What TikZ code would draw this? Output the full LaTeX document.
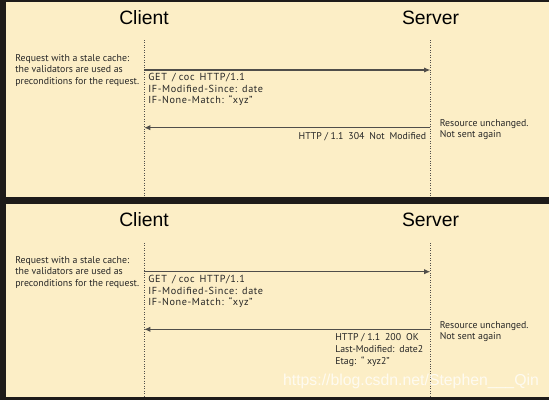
\documentclass[tikz,border=0pt]{standalone}
\usepackage{fontspec}
\setmainfont{PT Sans}
\newfontfamily\titlefont{Liberation Sans}
\newfontfamily\hdrfont[LetterSpace=6]{PT Sans}
\usetikzlibrary{arrows.meta,positioning}

\begin{document}
\begin{tikzpicture}[x=0.02cm, y=-0.02cm,
  lifeline/.style={densely dotted, line width=0.4pt, draw=linegray},
  msg/.style={line width=0.7pt, draw=linegray, -{Latex[length=3.6pt,width=3pt]}},
  title/.style={font=\titlefont\fontsize{11}{13}\selectfont, text=black, inner sep=0pt},
  note/.style={font=\fontsize{5.6}{6.5}\selectfont, align=left, inner sep=0pt, text=black!85},
  header/.style={font=\hdrfont\fontsize{5.8}{6.55}\selectfont, align=left, inner sep=0pt, text=black!85}]

\definecolor{linegray}{RGB}{80,78,74}
\definecolor{cream}{RGB}{252,238,198}
\definecolor{frame}{RGB}{30,27,25}

\fill[frame] (0,0) rectangle (549,400);
\useasboundingbox (0,0) rectangle (549,400);
\fill[cream] (6,2) rectangle (549,197);
\fill[cream] (6,204) rectangle (549,397);

% upper panel: 304 Not Modified
\node[title] (clientA) at (144,18) {Client};
\node[title] (serverA) at (430.5,18) {Server};
\coordinate (clientAtop) at (144,40);
\coordinate (clientAbot) at (144,197);
\coordinate (serverAtop) at (430.5,40);
\coordinate (serverAbot) at (430.5,197);
\draw[lifeline] (clientAtop) -- (clientAbot);
\draw[lifeline] (serverAtop) -- (serverAbot);

\coordinate (reqAfrom) at (144,70);
\coordinate (reqAto) at (430.5,70);
\coordinate (resAfrom) at (430.5,127.7);
\coordinate (resAto) at (144,127.7);
\draw[msg] (reqAfrom) -- (reqAto);
\draw[msg] (resAfrom) -- (resAto);

\node[note, anchor=north west] (staleA) at (15,54) {Request with a stale cache:\\the validators are used as\\preconditions for the request.};
\node[header, anchor=north west] (getA) at (148,73) {GET\enspace/ coc\enspace HTTP/1.1\\IF-Modified-Since:\enspace date\\IF-None-Match:\enspace “xyz”};
\node[note, anchor=north east] (answerA) at (426.5,132) {HTTP / 1.1\enspace 304\enspace Not\enspace Modified};
\node[note, anchor=north west] (unchangedA) at (439.5,119) {Resource unchanged.\\Not sent again};

% lower panel: 200 OK
\node[title] (clientB) at (144,220) {Client};
\node[title] (serverB) at (430.5,220) {Server};
\coordinate (clientBtop) at (144,243);
\coordinate (clientBbot) at (144,397);
\coordinate (serverBtop) at (430.5,243);
\coordinate (serverBbot) at (430.5,397);
\draw[lifeline] (clientBtop) -- (clientBbot);
\draw[lifeline] (serverBtop) -- (serverBbot);

\coordinate (reqBfrom) at (144,271.7);
\coordinate (reqBto) at (430.5,271.7);
\coordinate (resBfrom) at (430.5,329.3);
\coordinate (resBto) at (144,329.3);
\draw[msg] (reqBfrom) -- (reqBto);
\draw[msg] (resBfrom) -- (resBto);

\node[note, anchor=north west] (staleB) at (15,256) {Request with a stale cache:\\the validators are used as\\preconditions for the request.};
\node[header, anchor=north west] (getB) at (148,275) {GET\enspace/ coc\enspace HTTP/1.1\\IF-Modified-Since:\enspace date\\IF-None-Match:\enspace “xyz”};
\node[note, anchor=north west, font=\fontsize{5.6}{7}\selectfont] (answerB) at (335,333) {HTTP / 1.1\enspace 200\enspace OK\\Last-Modified:\enspace date2\\Etag:\enspace “ xyz2”};
\node[note, anchor=north west] (unchangedB) at (439.5,321) {Resource unchanged.\\Not sent again};

\node[font=\titlefont\fontsize{9}{11}\selectfont, text=white, opacity=0.75, inner sep=0pt] (mark) at (411,381.7) {https://blog.csdn.net/Stephen\_\_\_Qin};

\end{tikzpicture}
\end{document}
